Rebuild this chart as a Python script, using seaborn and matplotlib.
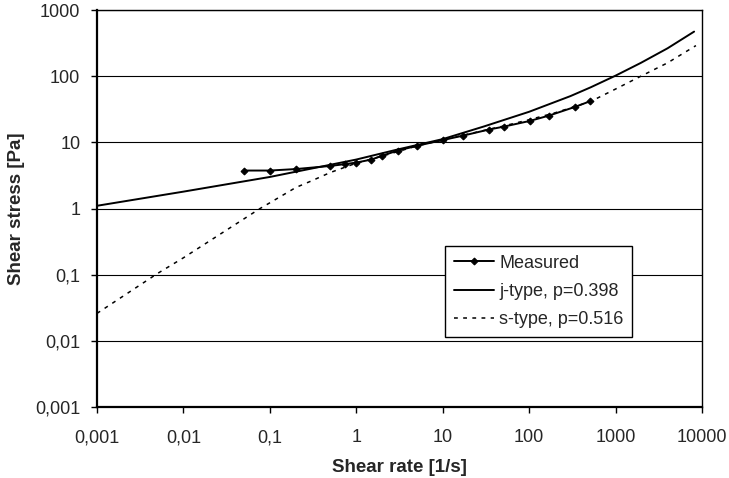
import pandas as pd
import seaborn as sns
import matplotlib.pyplot as plt

# measured points (shear rate [1/s], shear stress [Pa])
measured_rate = [0.05, 0.1, 0.2, 0.5, 0.75, 1, 1.5, 2, 3, 5.1, 10.2, 17, 34, 51, 102, 170, 340, 511]
measured_stress = [3.75, 3.75, 3.95, 4.4, 4.7, 4.95, 5.5, 6.3, 7.5, 8.9, 10.9, 12.6, 15.6, 17.3, 21.1, 25.4, 34.4, 42]

# model curves
j_rate = [0.001, 0.01, 0.1, 1, 3, 10, 30, 100, 300, 516, 1000, 1960, 3990, 8100]
j_stress = [1.1, 1.8, 3.0, 5.5, 7.8, 11.2, 17.4, 29, 50, 68, 102, 159, 264, 472]

s_rate = [0.001, 0.005, 0.01, 0.077, 0.1, 0.2, 0.3, 0.5, 1, 2, 5, 10, 20, 50, 100, 200, 511, 1000, 1960, 3990, 8500]
s_stress = [0.026, 0.104, 0.18, 1.0, 1.22, 2.08, 2.6, 3.5, 4.85, 6.2, 8.8, 10.9, 13.4, 17.6, 22, 28, 41.3, 64, 100, 159, 290]

x_ticks = [0.001, 0.01, 0.1, 1, 10, 100, 1000, 10000]
x_labels = ["0,001", "0,01", "0,1", "1", "10", "100", "1000", "10000"]
y_ticks = [0.001, 0.01, 0.1, 1, 10, 100, 1000]
y_labels = ["0,001", "0,01", "0,1", "1", "10", "100", "1000"]

measured = pd.DataFrame({"rate": measured_rate, "stress": measured_stress})
jtype = pd.DataFrame({"rate": j_rate, "stress": j_stress})
stype = pd.DataFrame({"rate": s_rate, "stress": s_stress})

sns.set_style("white")
plt.rcParams['font.family'] = ['Liberation Sans', 'DejaVu Sans']

fig, ax = plt.subplots(figsize=(7.29, 4.78), dpi=100)
fig.subplots_adjust(left=0.133, right=0.963, top=0.979, bottom=0.1485)

sns.lineplot(data=measured, x="rate", y="stress", ax=ax, color="black", lw=1.4,
             marker="D", markersize=3.5, markeredgecolor="black", label="Measured",
             sort=False, zorder=4)
sns.lineplot(data=jtype, x="rate", y="stress", ax=ax, color="black", lw=1.4,
             label="j-type, p=0.398", sort=False, zorder=3)
sns.lineplot(data=stype, x="rate", y="stress", ax=ax, color="black", lw=1.1,
             dashes=False, label="s-type, p=0.516", sort=False, zorder=2)
ax.lines[2].set_dashes([2.5, 3.5])

ax.set_xscale("log")
ax.set_yscale("log")
ax.set_xlim(0.001, 10000)
ax.set_ylim(0.001, 1000)
ax.set_xticks(x_ticks)
ax.set_xticklabels(x_labels)
ax.set_yticks(y_ticks)
ax.set_yticklabels(y_labels)
ax.minorticks_off()
ax.tick_params(axis="both", direction="out", length=4, width=1, color="black",
               labelsize=13, bottom=True, left=True)
ax.tick_params(axis="x", pad=12)
ax.tick_params(axis="y", pad=8)

for y in y_ticks:
    ax.axhline(y, color="black", lw=0.8, zorder=1)

for side in ["left", "bottom"]:
    ax.spines[side].set_linewidth(1.6)
    ax.spines[side].set_color("black")
for side in ["top", "right"]:
    ax.spines[side].set_linewidth(1.0)
    ax.spines[side].set_color("black")

ax.set_xlabel("Shear rate [1/s]", fontsize=13.5, fontweight="bold", labelpad=9)
ax.set_ylabel("Shear stress [Pa]", fontsize=13.5, fontweight="bold", labelpad=7)

leg = ax.legend(loc="lower left", bbox_to_anchor=(0.575, 0.176), fontsize=13,
                frameon=True, fancybox=False, edgecolor="black", framealpha=1,
                handlelength=2.2, labelspacing=0.62, borderpad=0.5, handletextpad=0.3,
                borderaxespad=0)
leg.get_frame().set_linewidth(1.0)

fig.savefig("out.png", dpi=100)
